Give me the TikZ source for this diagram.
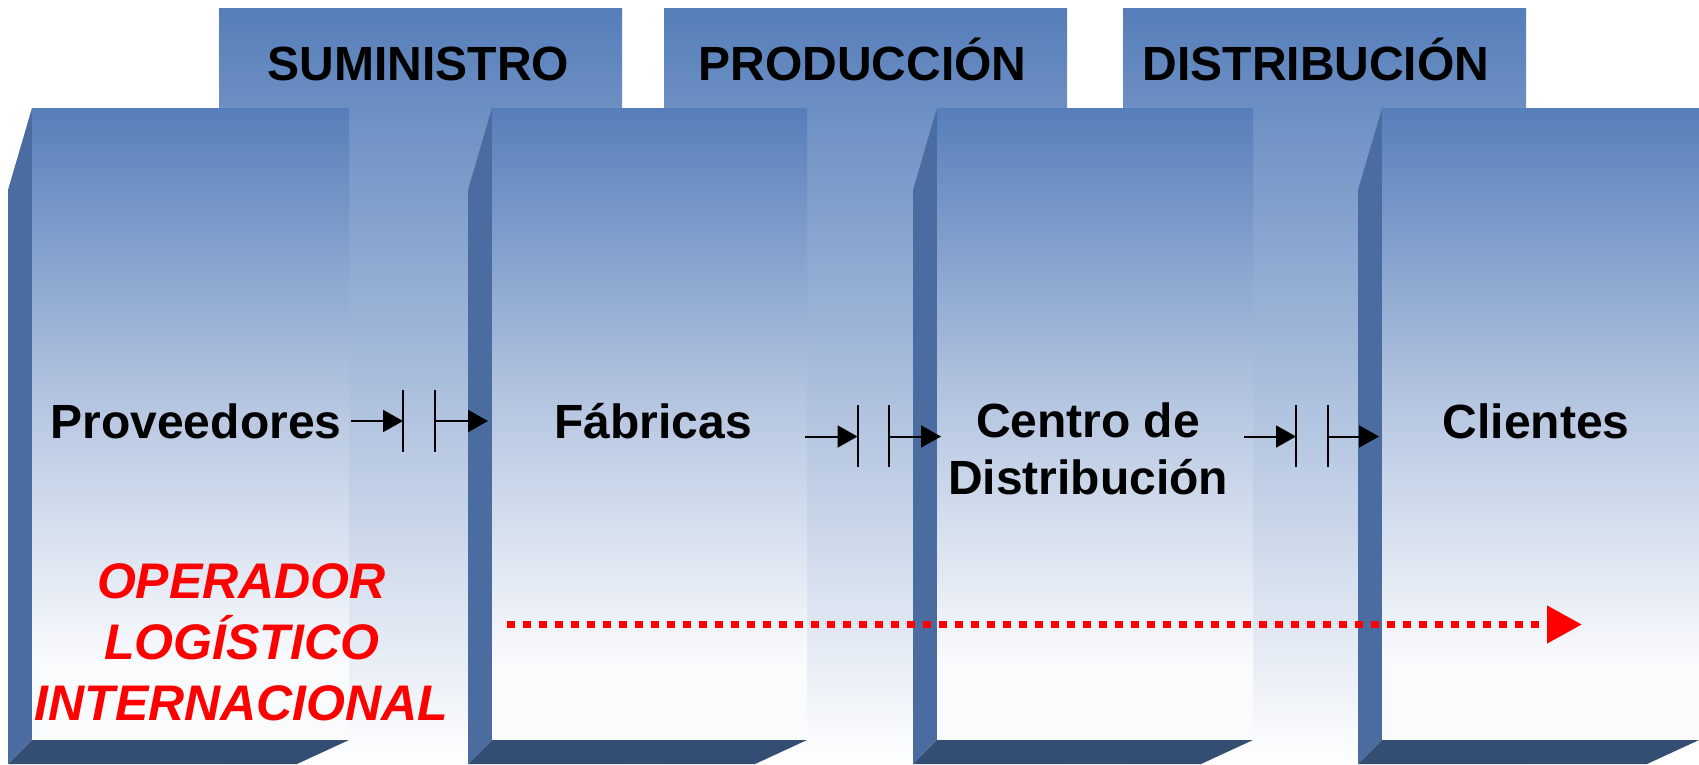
\documentclass[tikz,border=0pt]{standalone}
\usepackage{fontspec}
\setmainfont{Liberation Sans}
\usetikzlibrary{arrows.meta}
\definecolor{bluetop}{RGB}{86,126,186}
\definecolor{midblue}{RGB}{180,197,224}
\definecolor{sideblue}{RGB}{74,108,160}
\definecolor{slabblue}{RGB}{52,77,115}
\definecolor{paleend}{RGB}{250,251,253}
\definecolor{labelred}{RGB}{255,0,0}
\pgfdeclareverticalshading{frontshade}{100bp}{color(0bp)=(paleend); color(25bp)=(paleend); color(31bp)=(paleend); color(52bp)=(midblue); color(75bp)=(bluetop); color(100bp)=(bluetop)}
\begin{document}
\begin{tikzpicture}[x=1pt,y=-1pt,
  hdrbox/.style={top color=bluetop,bottom color=white,draw=none},
  frontface/.style={shading=frontshade,draw=none},
  sideface/.style={fill=sideblue,draw=none},
  slabface/.style={fill=slabblue,draw=none},
  hdrtext/.style={font=\fontsize{48}{57}\selectfont\bfseries,anchor=base,inner sep=0pt},
  lbl/.style={font=\fontsize{48}{57}\selectfont\bfseries,anchor=base,inner sep=0pt,align=center},
  redlbl/.style={font=\fontsize{50}{60.75}\selectfont\bfseries\itshape,text=labelred,anchor=base,inner sep=0pt,align=center},
  flow/.style={line width=2pt,-{Triangle[length=20pt,width=22pt]}},
  gapbar/.style={line width=2pt},
  dotflow/.style={draw=labelred,line width=7.5pt,dash pattern=on 8pt off 8pt,-{Triangle[length=35pt,width=36pt,fill=labelred]}}
]
\useasboundingbox (0,0) rectangle (1699,764);

% header boxes (tall, behind the columns)
\fill[hdrbox] (219,8) rectangle (622,764);
\fill[hdrbox] (664,8) rectangle (1067,764);
\fill[hdrbox] (1123,8) rectangle (1526,764);

% columns: side face, front face, bottom slab
\foreach \sx/\fx/\rx in {8/32/349, 468/492/807, 913/937/1253, 1358/1382/1699}{
  \fill[sideface] (\sx,190) -- (\fx,108) -- (\fx,740) -- (\sx,764) -- cycle;
  \fill[frontface] (\fx,108) rectangle (\rx,740);
  \fill[slabface] (\sx,764) -- (\fx,740) -- (\rx,740) -- ({\rx-52},764) -- cycle;
}

% header titles
\node[hdrtext] (sum) at (418.5,80) {SUMINISTRO};
\node[hdrtext] (prod) at (862.5,80) {PRODUCCIÓN};
\node[hdrtext] (dist) at (1316,80) {DISTRIBUCIÓN};

% column labels
\node[lbl] (prov) at (196,438) {Proveedores};
\node[lbl] (fab) at (653,438) {Fábricas};
\node[lbl] (cdd) at (1088,494) {Centro de\\Distribución};
\node[lbl] (cli) at (1536,438) {Clientes};

% operador logistico
\node[redlbl] (olog) at (241.5,720) {OPERADOR\\LOGÍSTICO\\INTERNACIONAL};

% flow arrows with gap bars
\coordinate (a1s) at (351,421);   \coordinate (a1e) at (403,421);
\coordinate (b1t) at (403,390);   \coordinate (b1b) at (403,452);
\coordinate (b2t) at (435,390);   \coordinate (b2b) at (435,452);
\coordinate (a2s) at (435,421);   \coordinate (a2e) at (488,421);
\draw[flow] (a1s) -- (a1e);
\draw[gapbar] (b1t) -- (b1b);
\draw[gapbar] (b2t) -- (b2b);
\draw[flow] (a2s) -- (a2e);

\coordinate (a3s) at (805,436.5);  \coordinate (a3e) at (857.5,436.5);
\coordinate (b3t) at (857.5,405);  \coordinate (b3b) at (857.5,467);
\coordinate (b4t) at (889,405);    \coordinate (b4b) at (889,467);
\coordinate (a4s) at (889,436.5);  \coordinate (a4e) at (941,436.5);
\draw[flow] (a3s) -- (a3e);
\draw[gapbar] (b3t) -- (b3b);
\draw[gapbar] (b4t) -- (b4b);
\draw[flow] (a4s) -- (a4e);

\coordinate (a5s) at (1243.5,436.5); \coordinate (a5e) at (1296,436.5);
\coordinate (b5t) at (1296,405);     \coordinate (b5b) at (1296,467);
\coordinate (b6t) at (1327.5,405);   \coordinate (b6b) at (1327.5,467);
\coordinate (a6s) at (1327.5,436.5); \coordinate (a6e) at (1379,436.5);
\draw[flow] (a5s) -- (a5e);
\draw[gapbar] (b5t) -- (b5b);
\draw[gapbar] (b6t) -- (b6b);
\draw[flow] (a6s) -- (a6e);

% red dotted arrow
\coordinate (rs) at (507,624.5);
\coordinate (re) at (1582,624.5);
\draw[dotflow] (rs) -- (re);
\end{tikzpicture}
\end{document}
